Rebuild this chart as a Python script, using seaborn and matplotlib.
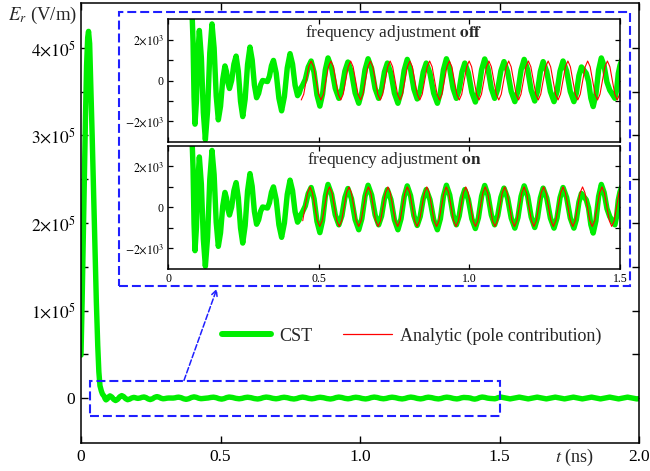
import numpy as np
import pandas as pd
import matplotlib
matplotlib.use("Agg")
import matplotlib.pyplot as plt
import seaborn as sns
from matplotlib.patches import Rectangle
from matplotlib.lines import Line2D

# ---------------- data (E in units of 10^3 V/m, t in ns) ----------------
cst_t = [
    0.000, 0.004, 0.008, 0.012, 0.016, 0.020, 0.024, 0.027, 0.031, 0.035,
    0.040, 0.045, 0.050, 0.055, 0.060, 0.064, 0.068, 0.073, 0.077,
    0.080, 0.0832, 0.0864, 0.0896, 0.0944, 0.0992, 0.104, 0.1107, 0.1173, 0.124,
    0.1313, 0.1387, 0.146, 0.153, 0.160, 0.167, 0.1743, 0.1817, 0.189, 0.194,
    0.199, 0.204, 0.2113, 0.2187, 0.226, 0.2333, 0.2407, 0.248, 0.256, 0.264,
    0.272, 0.2793, 0.2867, 0.294, 0.3007, 0.3073, 0.314, 0.330, 0.3367, 0.3433,
    0.350, 0.359, 0.368, 0.377, 0.3863, 0.3957, 0.405, 0.4133, 0.4217, 0.430,
    0.4353, 0.4407, 0.446, 0.4557, 0.4653, 0.475, 0.4847, 0.4943, 0.504, 0.513,
    0.522, 0.531, 0.543, 0.555, 0.567, 0.577, 0.587, 0.597, 0.609, 0.621,
    0.633, 0.6433, 0.6537, 0.664, 0.6757, 0.6873, 0.699, 0.7087, 0.7183, 0.728,
    0.7397, 0.7513, 0.763, 0.7733, 0.7837, 0.794, 0.805, 0.816, 0.827, 0.837,
    0.847, 0.857, 0.8693, 0.8817, 0.894, 0.904, 0.914, 0.924, 0.935, 0.946,
    0.957, 0.9663, 0.9757, 0.985, 0.9967, 1.0083, 1.020, 1.0303, 1.0407, 1.051,
    1.062, 1.073, 1.084, 1.0943, 1.1047, 1.115, 1.127, 1.139, 1.151, 1.1613,
    1.1717, 1.182, 1.1937, 1.2053, 1.217, 1.2263, 1.2357, 1.245, 1.257, 1.269,
    1.281, 1.291, 1.301, 1.311, 1.323, 1.335, 1.347, 1.3553, 1.3637, 1.372,
    1.388, 1.3957, 1.4033, 1.411, 1.420, 1.429, 1.438, 1.4473, 1.4567, 1.466,
    1.483, 1.4887, 1.4943, 1.500,
    1.506, 1.538, 1.571, 1.603, 1.635, 1.668, 1.700, 1.733, 1.765, 1.797,
    1.830, 1.862, 1.895, 1.927, 1.959, 1.992, 2.000,
]
cst_v = [
    49, 110, 180, 250, 320, 380, 412, 419, 405, 360,
    300, 235, 170, 110, 60, 30, 14, 8, 4.5,
    3.2, 1.87, -0.80, -2.13, -0.99, 1.30, 2.44, 1.11, -1.56, -2.89,
    -1.48, 1.35, 2.76, 1.59, -0.75, -1.92, -1.26, 0.05, 0.71, 0.435,
    -0.115, -0.39, 0.005, 0.795, 1.19, 0.45, -1.02, -1.76, -0.91, 0.78,
    1.63, 1.01, -0.22, -0.84, -0.63, -0.21, 0.00, -0.05, 0.21, 0.72,
    0.98, 0.365, -0.865, -1.48, -0.78, 0.61, 1.31, 0.80, -0.23, -0.74,
    -0.62, -0.37, -0.25, 0.05, 0.65, 0.95, 0.40, -0.70, -1.25, -0.66,
    0.51, 1.10, 0.61, -0.38, -0.87, -0.43, 0.46, 0.90, 0.40, -0.61,
    -1.11, -0.57, 0.52, 1.06, 0.58, -0.39, -0.87, -0.44, 0.42, 0.85,
    0.36, -0.62, -1.11, -0.575, 0.495, 1.03, 0.55, -0.42, -0.90, -0.46,
    0.41, 0.85, 0.36, -0.62, -1.11, -0.57, 0.52, 1.06, 0.58, -0.39,
    -0.87, -0.44, 0.42, 0.85, 0.375, -0.575, -1.05, -0.525, 0.525, 1.05,
    0.57, -0.39, -0.87, -0.42, 0.47, 0.92, 0.43, -0.54, -1.03, -0.515,
    0.515, 1.03, 0.52, -0.49, -1.00, -0.52, 0.44, 0.92, 0.43, -0.54,
    -1.03, -0.535, 0.455, 0.95, 0.455, -0.535, -1.03, -0.61, 0.24, 0.66,
    0.35, -0.055, -0.865, -1.27, -0.68, 0.51, 1.10, 0.71, -0.08, -0.47,
    -0.87, -0.47, 0.34, 0.74,
    1.00, -1.00, 1.00, -1.00, 1.00, -1.00, 1.00, -1.00, 1.00, -1.00,
    1.00, -1.00, 1.00, -1.00, 1.00, -1.00, -0.70,
]

# analytic pole contribution, frequency adjustment OFF
off_t = [
    0.4422, 0.4504, 0.4586, 0.4668, 0.4750, 0.4832, 0.4914, 0.4996,
    0.5078, 0.5159, 0.5241, 0.5323, 0.5405, 0.5487, 0.5569, 0.5651,
    0.5733, 0.5815, 0.5897, 0.5979, 0.6061, 0.6143, 0.6225, 0.6307,
    0.6389, 0.6470, 0.6552, 0.6634, 0.6716, 0.6798, 0.6880, 0.6962,
    0.7044, 0.7126, 0.7208, 0.7290, 0.7372, 0.7454, 0.7536, 0.7618,
    0.7700, 0.7781, 0.7863, 0.7945, 0.8027, 0.8109, 0.8191, 0.8273,
    0.8355, 0.8437, 0.8519, 0.8601, 0.8683, 0.8765, 0.8847, 0.8929,
    0.9011, 0.9092, 0.9174, 0.9256, 0.9338, 0.9420, 0.9502, 0.9584,
    0.9666, 0.9748, 0.9830, 0.9912, 0.9994, 1.0076, 1.0158, 1.0240,
    1.0322, 1.0403, 1.0485, 1.0567, 1.0649, 1.0731, 1.0813, 1.0895,
    1.0977, 1.1059, 1.1141, 1.1223, 1.1305, 1.1387, 1.1469, 1.1551,
    1.1633, 1.1714, 1.1796, 1.1878, 1.1960, 1.2042, 1.2124, 1.2206,
    1.2288, 1.2370, 1.2452, 1.2534, 1.2616, 1.2698, 1.2780, 1.2862,
    1.2944, 1.3025, 1.3107, 1.3189, 1.3271, 1.3353, 1.3435, 1.3517,
    1.3599, 1.3681, 1.3763, 1.3845, 1.3927, 1.4009, 1.4091, 1.4173,
    1.4255, 1.4336, 1.4418, 1.4500, 1.4582, 1.4664, 1.4746, 1.4828,
    1.4910, 1.5000,
]
off_v = [
    -0.95, -0.67, 0.0, 0.67, 0.95, 0.67, 0.0, -0.67,
    -0.95, -0.67, 0.0, 0.67, 0.95, 0.67, 0.0, -0.67,
    -0.95, -0.67, 0.0, 0.67, 0.95, 0.67, 0.0, -0.67,
    -0.95, -0.67, 0.0, 0.67, 0.95, 0.67, 0.0, -0.67,
    -0.95, -0.67, 0.0, 0.67, 0.95, 0.67, 0.0, -0.67,
    -0.95, -0.67, 0.0, 0.67, 0.95, 0.67, 0.0, -0.67,
    -0.95, -0.67, 0.0, 0.67, 0.95, 0.67, 0.0, -0.67,
    -0.95, -0.67, 0.0, 0.67, 0.95, 0.67, 0.0, -0.67,
    -0.95, -0.67, 0.0, 0.67, 0.95, 0.67, 0.0, -0.67,
    -0.95, -0.67, 0.0, 0.67, 0.95, 0.67, 0.0, -0.67,
    -0.95, -0.67, 0.0, 0.67, 0.95, 0.67, 0.0, -0.67,
    -0.95, -0.67, 0.0, 0.67, 0.95, 0.67, 0.0, -0.67,
    -0.95, -0.67, 0.0, 0.67, 0.95, 0.67, 0.0, -0.67,
    -0.95, -0.67, 0.0, 0.67, 0.95, 0.67, 0.0, -0.67,
    -0.95, -0.67, 0.0, 0.67, 0.95, 0.67, 0.0, -0.67,
    -0.95, -0.67, 0.0, 0.67, 0.95, 0.67, 0.0, -0.67,
    -0.95, -0.62,
]

# analytic pole contribution, frequency adjustment ON
on_t = [
    0.4471, 0.4552, 0.4632, 0.4713, 0.4794, 0.4875, 0.4955,
    0.5036, 0.5117, 0.5198, 0.5278, 0.5359, 0.5440, 0.5521, 0.5601,
    0.5682, 0.5763, 0.5844, 0.5924, 0.6005, 0.6086, 0.6167, 0.6247,
    0.6328, 0.6409, 0.6490, 0.6570, 0.6651, 0.6732, 0.6813, 0.6893,
    0.6974, 0.7055, 0.7136, 0.7216, 0.7297, 0.7378, 0.7459, 0.7539,
    0.7620, 0.7701, 0.7782, 0.7862, 0.7943, 0.8024, 0.8105, 0.8185,
    0.8266, 0.8347, 0.8428, 0.8508, 0.8589, 0.8670, 0.8751, 0.8831,
    0.8912, 0.8993, 0.9074, 0.9154, 0.9235, 0.9316, 0.9397, 0.9477,
    0.9558, 0.9639, 0.9720, 0.9800, 0.9881, 0.9962, 1.0043, 1.0123,
    1.0204, 1.0285, 1.0366, 1.0446, 1.0527, 1.0608, 1.0689, 1.0769,
    1.0850, 1.0931, 1.1012, 1.1092, 1.1173, 1.1254, 1.1335, 1.1415,
    1.1496, 1.1577, 1.1658, 1.1738, 1.1819, 1.1900, 1.1981, 1.2061,
    1.2142, 1.2223, 1.2304, 1.2384, 1.2465, 1.2546, 1.2627, 1.2707,
    1.2788, 1.2869, 1.2950, 1.3030, 1.3111, 1.3192, 1.3273, 1.3353,
    1.3434, 1.3515, 1.3596, 1.3676, 1.3757, 1.3838, 1.3919, 1.3999,
    1.4080, 1.4161, 1.4242, 1.4322, 1.4403, 1.4484, 1.4565, 1.4645,
    1.4726, 1.4807, 1.4888, 1.4968, 1.5000,
]
on_v = [
    -0.67, 0.01, 0.69, 0.98, 0.69, 0.01, -0.67,
    -0.95, -0.67, 0.01, 0.69, 0.98, 0.69, 0.01, -0.67,
    -0.95, -0.67, 0.01, 0.69, 0.98, 0.69, 0.01, -0.67,
    -0.95, -0.67, 0.01, 0.69, 0.98, 0.69, 0.01, -0.67,
    -0.95, -0.67, 0.01, 0.69, 0.98, 0.69, 0.01, -0.67,
    -0.95, -0.67, 0.01, 0.69, 0.98, 0.69, 0.01, -0.67,
    -0.95, -0.67, 0.01, 0.69, 0.98, 0.69, 0.01, -0.67,
    -0.95, -0.67, 0.01, 0.69, 0.98, 0.69, 0.01, -0.67,
    -0.95, -0.67, 0.01, 0.69, 0.98, 0.69, 0.01, -0.67,
    -0.95, -0.67, 0.01, 0.69, 0.98, 0.69, 0.01, -0.67,
    -0.95, -0.67, 0.01, 0.69, 0.98, 0.69, 0.01, -0.67,
    -0.95, -0.67, 0.01, 0.69, 0.98, 0.69, 0.01, -0.67,
    -0.95, -0.67, 0.01, 0.69, 0.98, 0.69, 0.01, -0.67,
    -0.95, -0.67, 0.01, 0.69, 0.98, 0.69, 0.01, -0.67,
    -0.95, -0.67, 0.01, 0.69, 0.98, 0.69, 0.01, -0.67,
    -0.95, -0.67, 0.01, 0.69, 0.98, 0.69, 0.01, -0.67,
    -0.95, -0.67, 0.01, 0.69, 0.87,
]

main_xticks = [0, 0.5, 1.0, 1.5, 2.0]
main_xticklabels = ["0", "0.5", "1.0", "1.5", "2.0"]
main_yticks = [0, 0.5e5, 1e5, 1.5e5, 2e5, 2.5e5, 3e5, 3.5e5, 4e5]
main_yticklabels = ["0", "", r"$1{\times}10^5$", "", r"$2{\times}10^5$", "",
                    r"$3{\times}10^5$", "", r"$4{\times}10^5$"]
inset_xticks = [0, 0.5, 1.0, 1.5]
inset_xticklabels = ["0", "0.5", "1.0", "1.5"]
inset_yticks = [-2e3, -1e3, 0, 1e3, 2e3]
inset_yticklabels = [r"$-2{\times}10^3$", "", "0", "", r"$2{\times}10^3$"]
inset_titles = [r"frequency adjustment $\mathbf{off}$",
                r"frequency adjustment $\mathbf{on}$"]

GREEN = "#00ee00"
RED = "#ff0000"
BLUE = "#1f1fff"
GREEN_LW = 3.9

# ---------------- style ----------------
sns.set_theme(style="ticks")
plt.rcParams["font.family"] = ["Liberation Serif", "DejaVu Serif"]
plt.rcParams["mathtext.fontset"] = "stix"
plt.rcParams["xtick.direction"] = "in"
plt.rcParams["ytick.direction"] = "in"
plt.rcParams["xtick.top"] = True
plt.rcParams["ytick.right"] = True
plt.rcParams["axes.edgecolor"] = "black"
plt.rcParams["axes.linewidth"] = 1.1

cst = pd.DataFrame({"t": cst_t, "E": np.array(cst_v) * 1e3})
off = pd.DataFrame({"t": off_t, "E": np.array(off_v) * 1e3})
on = pd.DataFrame({"t": on_t, "E": np.array(on_v) * 1e3})

fig = plt.figure(figsize=(6.5, 4.71), dpi=100)
W, H = 650.0, 471.0

# ---------------- main axes ----------------
ax = fig.add_axes([81 / W, 1 - 443 / H, 558 / W, 440 / H])
sns.lineplot(data=cst, x="t", y="E", ax=ax, color=GREEN, lw=GREEN_LW,
             estimator=None, sort=False, legend=False)
ax.set_xlim(0, 2.0)
ax.set_ylim(-0.514e5, 4.514e5)
ax.set_xticks(main_xticks, main_xticklabels)
ax.set_yticks(main_yticks, main_yticklabels)
ax.tick_params(axis="both", labelsize=12.5, length=5, width=1.0, colors="black",
               pad=4)
ax.set_xlabel("")
ax.set_ylabel("")

# zoom rectangle, inset frame, arrow
ax.add_patch(Rectangle((0.033, -0.21e5), 1.5 - 0.033, 0.41e5, fill=False,
                       ec=BLUE, lw=1.5, ls=(0, (4.3, 1.9)), zorder=5))
ax.add_patch(Rectangle((0.136, 1.283e5), 1.968 - 0.136, 4.408e5 - 1.283e5,
                       fill=False, ec=BLUE, lw=1.5, ls=(0, (4.3, 1.9)),
                       zorder=5, clip_on=False))
ax.annotate("", xy=(0.487, 1.25e5), xytext=(0.369, 0.2e5),
            arrowprops=dict(arrowstyle="->", color=BLUE, lw=1.1, ls="--",
                            shrinkA=0, shrinkB=0, mutation_scale=10))

handles = [Line2D([], [], color=GREEN, lw=GREEN_LW + 0.4, label="CST"),
           Line2D([], [], color=RED, lw=0.9, label="Analytic (pole contribution)")]
ax.legend(handles=handles, loc="center", bbox_to_anchor=(0.593, 0.243), ncol=2,
          frameon=False, fontsize=13, handlelength=2.7, columnspacing=1.7,
          handletextpad=0.45)

fig.text(8 / W, 1 - 15 / H, r"$E_r$ (V/m)", fontsize=13.5, ha="left",
         va="center")
ax.text((555 - 81) / 558, -0.009, r"$t$ (ns)", transform=ax.transAxes,
        fontsize=13, ha="left", va="top")

# ---------------- insets ----------------
inset_tops = [19, 145.5]
red_data = [off, on]
for i, (top, rdf, title) in enumerate(zip(inset_tops, red_data, inset_titles)):
    ia = fig.add_axes([168 / W, 1 - (top + 123) / H, 452 / W, 123 / H])
    ia.set_facecolor("white")
    sns.lineplot(data=cst, x="t", y="E", ax=ia, color=GREEN, lw=GREEN_LW,
                 estimator=None, sort=False, legend=False)
    sns.lineplot(data=rdf, x="t", y="E", ax=ia, color=RED, lw=0.8,
                 estimator=None, sort=False, legend=False)
    ia.set_xlim(0, 1.5)
    ia.set_ylim(-3e3, 3e3)
    ia.set_yticks(inset_yticks, inset_yticklabels)
    if i == 1:
        ia.set_xticks(inset_xticks, inset_xticklabels)
    else:
        ia.set_xticks(inset_xticks, ["", "", "", ""])
    ia.tick_params(axis="both", labelsize=8.5, length=3.5, width=0.9,
                   colors="black", pad=3)
    ia.set_xlabel("")
    ia.set_ylabel("")
    ia.text(0.5, 0.965, title, transform=ia.transAxes, ha="center", va="top",
            fontsize=12.5)

fig.savefig("out.png", dpi=100)
